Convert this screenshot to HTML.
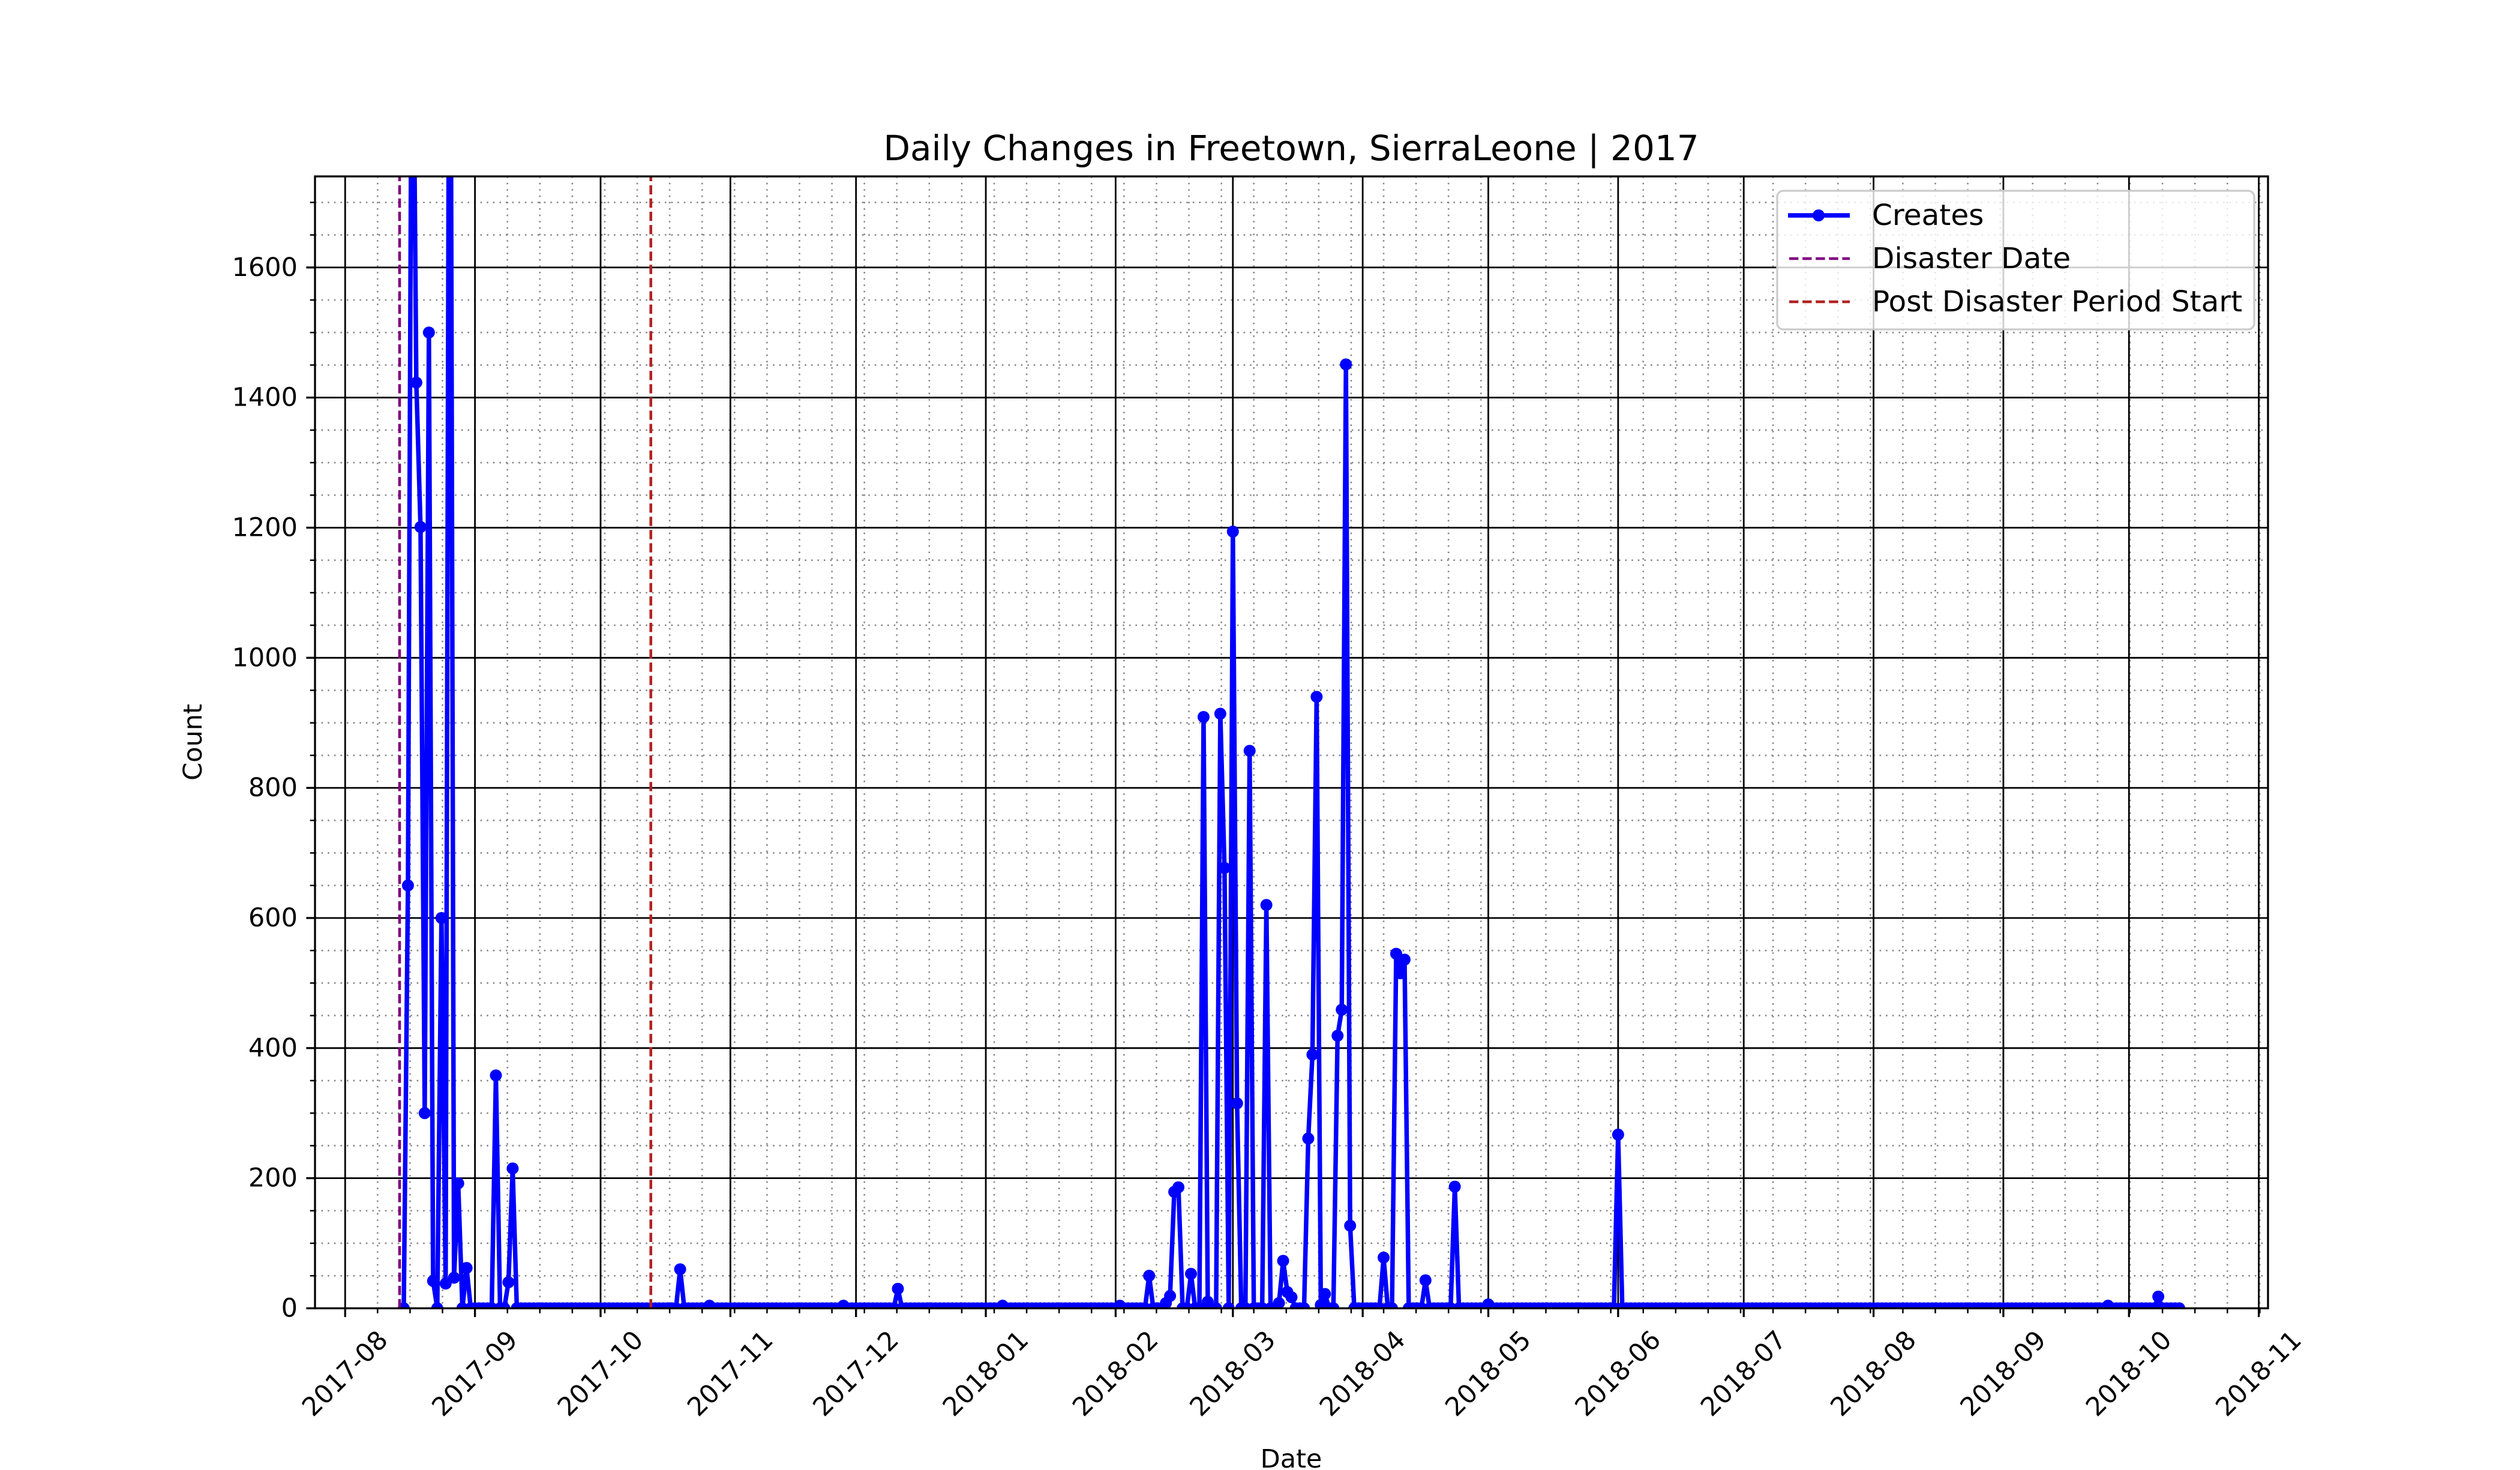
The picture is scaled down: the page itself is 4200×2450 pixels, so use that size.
<!DOCTYPE html>
<html>
<head>
<meta charset="utf-8">
<style>
  html, body { margin: 0; padding: 0; background: #ffffff; }
  svg { display: block; }
  text { font-family: "DejaVu Sans", "Liberation Sans", sans-serif; fill: #000; }
</style>
</head>
<body>
<svg id="chart" xmlns="http://www.w3.org/2000/svg" width="4200" height="2450" viewBox="0 0 4200 2450">
  <rect x="0" y="0" width="4200" height="2450" fill="#ffffff"/>
  <defs>
    <clipPath id="plotClip"><rect x="525" y="294" width="3255" height="1886.5"/></clipPath>
  </defs>
  <g id="gridMinor"></g>
  <g id="gridMajor"></g>
  <g id="series" clip-path="url(#plotClip)"></g>
  <g id="vlines" clip-path="url(#plotClip)"></g>
  <rect x="525" y="294" width="3255" height="1886.5" fill="none" stroke="#000" stroke-width="3.3"/>
  <g id="ticks"></g>
  <g id="xlabels"></g>
  <g id="ylabels"></g>
  <text x="2152" y="247" font-size="58" text-anchor="middle" dominant-baseline="central">Daily Changes in Freetown, SierraLeone | 2017</text>
  <text x="2152" y="2432" font-size="43" text-anchor="middle" dominant-baseline="central">Date</text>
  <text x="0" y="0" font-size="43" text-anchor="middle" dominant-baseline="central" transform="translate(322,1237) rotate(-90)">Count</text>
  <g id="legend">
    <rect x="2962" y="318" width="795" height="231" rx="10" ry="10" fill="rgba(255,255,255,0.8)" stroke="#cccccc" stroke-width="3.3"/>
    <g>
      <line x1="2980" y1="359" x2="3083" y2="359" stroke="#0000ff" stroke-width="7.5"/>
      <circle cx="3031" cy="359" r="10" fill="#0000ff"/>
      <text x="3120" y="359" font-size="48.5" dominant-baseline="central">Creates</text>
    </g>
    <g>
      <line x1="2982" y1="431" x2="3083" y2="431" stroke="#800080" stroke-width="4.6" stroke-dasharray="15.4,6.7"/>
      <text x="3120" y="431" font-size="48.5" dominant-baseline="central">Disaster Date</text>
    </g>
    <g>
      <line x1="2982" y1="503" x2="3083" y2="503" stroke="#b22222" stroke-width="4.6" stroke-dasharray="15.4,6.7"/>
      <text x="3120" y="503" font-size="48.5" dominant-baseline="central">Post Disaster Period Start</text>
    </g>
  </g>
</svg>
<script>
// ---- data (non-zero daily counts; every other day in range is 0) ----
const seriesStart = "2017-08-15";
const seriesEnd = "2018-10-13";
const nonZeroDates = [
  "2017-08-16","2017-08-17","2017-08-18","2017-08-19","2017-08-20","2017-08-21","2017-08-22",
  "2017-08-24","2017-08-25","2017-08-26","2017-08-27","2017-08-28","2017-08-30",
  "2017-09-06","2017-09-09","2017-09-10",
  "2017-10-20","2017-10-27","2017-11-28","2017-12-11","2018-01-05","2018-02-02",
  "2018-02-09","2018-02-13","2018-02-14","2018-02-15","2018-02-16","2018-02-19",
  "2018-02-22","2018-02-23","2018-02-26","2018-02-27",
  "2018-03-01","2018-03-02","2018-03-05","2018-03-09","2018-03-12","2018-03-13","2018-03-14","2018-03-15",
  "2018-03-19","2018-03-20","2018-03-21","2018-03-22","2018-03-23",
  "2018-03-26","2018-03-27","2018-03-28","2018-03-29",
  "2018-04-06","2018-04-09","2018-04-10","2018-04-11","2018-04-16","2018-04-23",
  "2018-05-01","2018-06-01","2018-09-26","2018-10-08"
];
const nonZeroValues = [
  650,2200,1423,1201,300,1500,42,
  600,38,2500,47,192,62,
  358,40,215,
  60,4,4,30,4,4,
  50,8,19,179,186,53,
  909,10,914,677,
  1194,315,857,620,8,73,25,17,
  261,390,940,5,22,
  419,459,1451,127,
  78,545,515,536,43,187,
  6,267,4,18
];
const eventDates = ["2017-08-14","2017-10-13"];
const eventColors = ["#800080","#b22222"];
const eventNames = ["disaster-date-line","post-disaster-start-line"];
const xTickLabels = ["2017-08","2017-09","2017-10","2017-11","2017-12","2018-01","2018-02","2018-03",
  "2018-04","2018-05","2018-06","2018-07","2018-08","2018-09","2018-10","2018-11"];
const yTickValues = [0,200,400,600,800,1000,1200,1400,1600];
const yMax = 1740;

// ---- axes ----
const NS = "http://www.w3.org/2000/svg";
const PL = 525, PR = 3780, PT = 294, PB = 2180.5;
const DAY = 86400000;
function dayNum(s) { const p = s.split("-").map(Number); return Date.UTC(p[0], p[1]-1, p[2] || 1) / DAY; }
const d0 = dayNum(seriesStart), d1 = dayNum(seriesEnd);
const span = d1 - d0;
const xMin = d0 - 0.05 * span, xMax = d1 + 0.05 * span;
function xScale(d) { return PL + (d - xMin) / (xMax - xMin) * (PR - PL); }
function yScale(v) { return PB - v / yMax * (PB - PT); }
function mk(tag, attrs, parent) {
  const e = document.createElementNS(NS, tag);
  for (const k in attrs) e.setAttribute(k, attrs[k]);
  parent.appendChild(e);
  return e;
}
const gMin = document.getElementById("gridMinor");
const gMaj = document.getElementById("gridMajor");
const gTicks = document.getElementById("ticks");
const gXL = document.getElementById("xlabels");
const gYL = document.getElementById("ylabels");

// x major ticks
const majorDays = xTickLabels.map(dayNum);
majorDays.forEach((d, i) => {
  const x = xScale(d);
  const gl = mk("line", {x1: x, y1: PT, x2: x, y2: PB, stroke: "#000", "stroke-width": 2.8}, gMaj);
  
  
  const tk = mk("line", {x1: x, y1: PB, x2: x, y2: PB + 14.6, stroke: "#000", "stroke-width": 3.3}, gTicks);
  
  
  const t = mk("text", {x: 0, y: 0, "font-size": 43, "text-anchor": "middle", "dominant-baseline": "central",
    transform: "translate(" + x + "," + (PB + 29 + 80) + ") rotate(-45)"}, gXL);
  t.textContent = xTickLabels[i];
  
  
});
// x minor ticks (AutoMinorLocator: major step / 4 from first major)
const minorStep = (majorDays[1] - majorDays[0]) / 4;
for (let k = -4; k < 80; k++) {
  const d = majorDays[0] + k * minorStep;
  if (d < xMin || d > xMax) continue;
  if (majorDays.some(m => Math.abs(m - d) < 0.01)) continue;
  const x = xScale(d);
  const gl = mk("line", {x1: x, y1: PT, x2: x, y2: PB, stroke: "#888", "stroke-width": 2.6, "stroke-dasharray": "2.6,8"}, gMin);
  
  
  const tk = mk("line", {x1: x, y1: PB, x2: x, y2: PB + 8.3, stroke: "#000", "stroke-width": 2.5}, gTicks);
  
  
}
// y major ticks
yTickValues.forEach(v => {
  const y = yScale(v);
  const gl = mk("line", {x1: PL, y1: y, x2: PR, y2: y, stroke: "#000", "stroke-width": 2.8}, gMaj);
  
  
  const tk = mk("line", {x1: PL - 14.6, y1: y, x2: PL, y2: y, stroke: "#000", "stroke-width": 3.3}, gTicks);
  
  
  const t = mk("text", {x: PL - 29, y: y, "font-size": 43, "text-anchor": "end", "dominant-baseline": "central"}, gYL);
  t.textContent = String(v);
  
  
});
// y minor ticks
const yMinorStep = (yTickValues[1] - yTickValues[0]) / 4;
for (let v = yMinorStep; v < yMax; v += yMinorStep) {
  if (yTickValues.includes(v)) continue;
  const y = yScale(v);
  const gl = mk("line", {x1: PL, y1: y, x2: PR, y2: y, stroke: "#888", "stroke-width": 2.6, "stroke-dasharray": "2.6,8"}, gMin);
  
  
  const tk = mk("line", {x1: PL - 8.3, y1: y, x2: PL, y2: y, stroke: "#000", "stroke-width": 2.5}, gTicks);
  
  
}

// ---- series ----
const lookup = {};
nonZeroDates.forEach((s, i) => { lookup[dayNum(s)] = nonZeroValues[i]; });
const gS = document.getElementById("series");
const pts = [];
for (let d = d0; d <= d1; d++) {
  const v = lookup[d] !== undefined ? lookup[d] : 0;
  pts.push([xScale(d), yScale(v)]);
}
const path = mk("polyline", {points: pts.map(p => p[0].toFixed(2) + "," + p[1].toFixed(2)).join(" "),
  fill: "none", stroke: "#0000ff", "stroke-width": 7.5, "stroke-linejoin": "round", "stroke-linecap": "butt"}, gS);


pts.forEach(p => {
  const c = mk("circle", {cx: p[0], cy: p[1], r: 10, fill: "#0000ff"}, gS);
  
  
});

// ---- event lines ----
const gV = document.getElementById("vlines");
eventDates.forEach((s, i) => {
  const x = xScale(dayNum(s));
  const l = mk("line", {x1: x, y1: PB, x2: x, y2: PT, stroke: eventColors[i], "stroke-width": 4.6, "stroke-dasharray": "15.4,6.7"}, gV);
  
  
});
</script>
</body>
</html>
